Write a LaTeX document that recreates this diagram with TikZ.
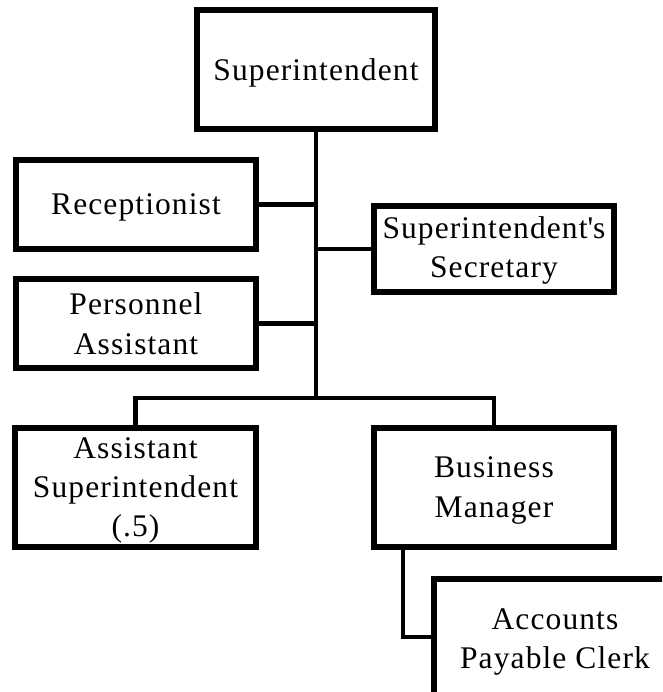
\documentclass[tikz,border=0pt]{standalone}
\usepackage{fontspec}
\setmainfont{Liberation Serif}[LetterSpace=3.5]
\begin{document}
\begin{tikzpicture}[x=1pt,y=-1pt,
  box/.style={draw=black,line width=5.5pt,fill=white,rectangle,inner sep=0pt,align=center,text=black,text depth=0pt},
  conn/.style={draw=black,line width=4.8pt},
  fs/.style={font=\fontsize{31.5}{#1}\selectfont}]
\useasboundingbox (0,0) rectangle (662,692);
\clip (0,0) rectangle (662,692);
\fill[white] (0,0) rectangle (662,692);
% nodes
\node[box,fs=40,minimum width=238pt,minimum height=119pt] (sup) at (316,69.5) {Superintendent};
\node[box,fs=40,minimum width=240pt,minimum height=89pt] (rec) at (136,204.5) {Receptionist};
\node[box,fs=39,text depth=4pt,minimum width=240pt,minimum height=86pt] (sec) at (494,249) {Superintendent\textquotesingle s\\Secretary};
\node[box,fs=40,minimum width=240pt,minimum height=89pt] (per) at (136,323.5) {Personnel\\Assistant};
\node[box,fs=39,minimum width=241pt,minimum height=119pt] (asst) at (135.5,487.5) {Assistant\\Superintendent\\(.5)};
\node[box,fs=40,minimum width=240pt,minimum height=119pt] (bus) at (494,487.5) {Business\\Manager};
\node[box,fs=39,text depth=5pt,minimum width=242pt,minimum height=124pt] (acc) at (555,641) {Accounts\\Payable Clerk};
% connectors
\coordinate (bar) at (316,398);
\draw[conn] (sup.south) -- (bar);
\draw[conn] (asst.north) |- (bar) -| (bus.north);
\draw[conn] (rec.east) -- (rec.east -| sup.south);
\draw[conn] (per.east) -- (per.east -| sup.south);
\draw[conn] (sec.west) -- (sec.west -| sup.south);
\draw[conn] ([xshift=-91pt]bus.south) |- ([yshift=4pt]acc.west);
\end{tikzpicture}
\end{document}
